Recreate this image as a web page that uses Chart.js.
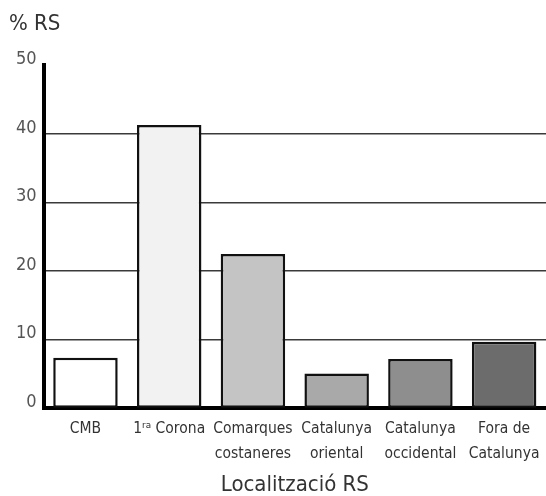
<!DOCTYPE html>
<html>
<head>
<meta charset="utf-8">
<script src="https://cdn.jsdelivr.net/npm/chart.js@4/dist/chart.umd.min.js"></script>
<style>
  html, body { margin: 0; padding: 0; background: #fff; }
  #wrap { width: 546px; height: 496px; }
</style>
</head>
<body>
<div id="wrap"><canvas id="chart"></canvas></div>
<script>
// --- Dades ---
const categories = ['CMB', '1ʳᵃ Corona', ['Comarques', 'costaneres'], ['Catalunya', 'oriental'], ['Catalunya', 'occidental'], ['Fora de', 'Catalunya']];
const values = [7.4, 41.3, 22.5, 5.1, 7.2, 9.7];
const barColors = ['#ffffff', '#f2f2f2', '#c4c4c4', '#a9a9a9', '#8e8e8e', '#6c6c6c'];
const yTicks = [0, 10, 20, 30, 40, 50];

const FONT = "'DejaVu Sans Condensed', 'Liberation Sans Narrow', sans-serif";

const ctx = document.getElementById('chart').getContext('2d');
new Chart(ctx, {
    type: 'bar',
    data: {
        labels: categories,
        datasets: [{
            data: values,
            backgroundColor: barColors,
            borderColor: '#111',
            borderWidth: 2.5,
            borderSkipped: false,
            barPercentage: 0.77,
            categoryPercentage: 1.0
        }]
    },
    options: {
        responsive: true,
        maintainAspectRatio: false,
        animation: false,
        layout: { padding: { left: 9, right: 0, top: 0, bottom: 0 } },
        plugins: {
            legend: { display: false },
            tooltip: { enabled: false },
            title: {
                display: true,
                text: '% RS',
                align: 'start',
                color: '#333',
                font: { family: FONT, size: 22, weight: 'normal' },
                padding: { top: 11, bottom: 28 }
            }
        },
        scales: {
            x: {
                grid: { display: false, drawTicks: false },
                border: { display: true, color: '#000', width: 4 },
                afterFit: (axis) => { axis.paddingRight = 0; axis.paddingLeft = 0; },
                ticks: {
                    color: '#333',
                    font: { family: FONT, size: 15.5, lineHeight: 1.6 },
                    padding: 8,
                    maxRotation: 0,
                    autoSkip: false
                },
                title: {
                    display: true,
                    text: 'Localització RS',
                    color: '#333',
                    font: { family: FONT, size: 22, lineHeight: 1.0 },
                    padding: { top: 0, bottom: 0 }
                }
            },
            y: {
                min: 0,
                max: 50,
                afterBuildTicks: (axis) => { axis.ticks = yTicks.map(v => ({ value: v })); },
                afterFit: (axis) => { axis.paddingTop = 0; axis.paddingBottom = 0; },
                grid: {
                    drawTicks: false,
                    color: (c) => (c.tick && (c.tick.value === 0 || c.tick.value === 50)) ? 'rgba(0,0,0,0)' : '#3a3a3a',
                    lineWidth: 1.5
                },
                border: { display: true, color: '#000', width: 4 },
                ticks: {
                    color: '#555',
                    font: { family: FONT, size: 18 },
                    padding: 7,
                    labelOffset: -6
                }
            }
        }
    }
});
</script>
</body>
</html>
